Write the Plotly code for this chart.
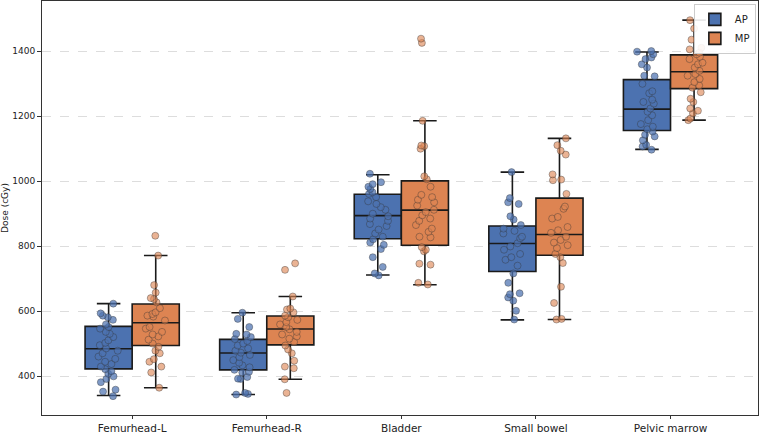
import plotly.graph_objects as go

categories = ["Femurhead-L", "Femurhead-R", "Bladder", "Small bowel", "Pelvic marrow"]
groups = ["AP", "MP"]
colors = {"AP": "#4c72b0", "MP": "#dd8452"}
point_colors = {"AP": "rgba(76,114,176,0.72)", "MP": "rgba(221,132,82,0.62)"}

# Box statistics
ap_q1 = [422, 419, 823, 722, 1156]
ap_median = [484, 471, 894, 808, 1222]
ap_q3 = [553, 513, 960, 862, 1313]
ap_low = [340, 343, 711, 573, 1098]
ap_high = [623, 595, 1020, 1028, 1398]

mp_q1 = [494, 496, 803, 772, 1285]
mp_median = [564, 545, 911, 836, 1337]
mp_q3 = [622, 585, 1001, 948, 1389]
mp_low = [364, 390, 681, 574, 1188]
mp_high = [771, 645, 1186, 1132, 1496]

# Individual points (estimated)
ap_femurhead_l = [623, 593, 586, 581, 573, 559, 551, 546, 536, 530, 520, 510, 502, 495, 485, 478,
                  470, 460, 453, 444, 437, 429, 421, 415, 407, 399, 391, 381, 358, 352, 338]
mp_femurhead_l = [832, 771, 680, 657, 640, 637, 627, 609, 596, 591, 586, 583, 571, 551, 546, 536,
                  528, 522, 512, 500, 490, 478, 470, 452, 444, 429, 411, 364]
ap_femurhead_r = [595, 576, 551, 530, 528, 520, 514, 508, 500, 494, 485, 478, 472, 465, 458, 449,
                  441, 433, 427, 419, 413, 411, 397, 392, 391, 348, 343, 345]
mp_femurhead_r = [747, 727, 645, 608, 605, 596, 586, 581, 573, 566, 559, 551, 544, 536, 528, 522,
                  515, 505, 494, 482, 470, 447, 429, 424, 390, 348]
ap_bladder = [1023, 997, 991, 983, 976, 966, 961, 951, 938, 930, 920, 912, 900, 892, 885, 878,
              868, 862, 851, 839, 829, 821, 811, 804, 791, 766, 736, 710, 716]
mp_bladder = [1439, 1426, 1186, 1110, 1108, 1100, 1015, 1006, 983, 958, 951, 943, 935, 925, 912,
              905, 895, 885, 878, 865, 854, 844, 829, 827, 797, 789, 784, 746, 743, 687, 682]
ap_small_bowel = [1028, 948, 935, 930, 892, 882, 865, 854, 847, 839, 829, 824, 809, 799, 789, 776,
                  766, 758, 740, 716, 687, 655, 652, 642, 632, 601, 574]
mp_small_bowel = [1132, 1111, 1094, 1082, 1021, 1005, 1003, 961, 922, 915, 890, 885, 859, 849, 841,
                  829, 819, 811, 803, 794, 776, 766, 748, 675, 625, 576, 574]
ap_pelvic_marrow = [1401, 1399, 1391, 1381, 1376, 1360, 1350, 1325, 1323, 1300, 1277, 1271, 1251,
                    1244, 1239, 1224, 1214, 1203, 1188, 1176, 1168, 1160, 1153, 1143, 1138, 1126,
                    1112, 1107, 1097]
mp_pelvic_marrow = [1496, 1470, 1436, 1411, 1406, 1396, 1391, 1383, 1376, 1365, 1360, 1350, 1340,
                    1330, 1325, 1315, 1305, 1295, 1288, 1274, 1254, 1244, 1224, 1217, 1209, 1193, 1188]

stats = {
    "AP": (ap_q1, ap_median, ap_q3, ap_low, ap_high),
    "MP": (mp_q1, mp_median, mp_q3, mp_low, mp_high),
}
points = {
    "AP": [ap_femurhead_l, ap_femurhead_r, ap_bladder, ap_small_bowel, ap_pelvic_marrow],
    "MP": [mp_femurhead_l, mp_femurhead_r, mp_bladder, mp_small_bowel, mp_pelvic_marrow],
}

fig = go.Figure()

for g in groups:
    q1, med, q3, lo, hi = stats[g]
    fig.add_trace(go.Box(
        x=categories, q1=q1, median=med, q3=q3, lowerfence=lo, upperfence=hi,
        name=g, offsetgroup=g, fillcolor=colors[g],
        line=dict(color="#1a1a1a", width=1.6), whiskerwidth=0.5,
        boxpoints=False, showlegend=True,
    ))

for g in groups:
    xs, ys = [], []
    for cat, vals in zip(categories, points[g]):
        xs += [cat] * len(vals)
        ys += vals
    fig.add_trace(go.Box(
        x=xs, y=ys, name=g, offsetgroup=g, boxpoints="all", jitter=0.45, pointpos=0,
        fillcolor="rgba(0,0,0,0)", line=dict(color="rgba(0,0,0,0)", width=0),
        marker=dict(size=7, color=point_colors[g], line=dict(color="rgba(50,50,50,0.55)", width=0.7)),
        showlegend=False, hoveron="points",
    ))

fig.update_layout(
    width=763, height=436,
    margin=dict(l=42, r=5, t=1, b=21),
    paper_bgcolor="white", plot_bgcolor="white",
    boxmode="group", boxgap=0.3, boxgroupgap=0,
    font=dict(family="DejaVu Sans", size=10, color="#222"),
    legend=dict(x=0.997, y=0.993, xanchor="right", yanchor="top",
                bordercolor="#cccccc", borderwidth=1, bgcolor="rgba(255,255,255,0.9)",
                font=dict(size=10), tracegroupgap=2),
)
fig.update_xaxes(
    type="category", categoryorder="array", categoryarray=categories,
    range=[-0.67, 4.65], showline=True, linecolor="#333", linewidth=1, mirror=True,
    ticks="outside", ticklen=3, tickcolor="#333", showgrid=False, automargin=False,
    tickfont=dict(size=10.5, family="DejaVu Sans"), zeroline=False,
)
fig.update_yaxes(
    range=[280, 1555], tickvals=[400, 600, 800, 1000, 1200, 1400],
    showline=True, linecolor="#333", linewidth=1, mirror=True,
    ticks="outside", ticklen=4, tickcolor="#333", automargin=False,
    showgrid=True, gridcolor="#dddddd", griddash="dash", gridwidth=1,
    tickfont=dict(size=9, family="DejaVu Sans"), zeroline=False,
    title=dict(text="Dose (cGy)", font=dict(size=9, family="DejaVu Sans"), standoff=6),
)

fig.write_html("out.html")
